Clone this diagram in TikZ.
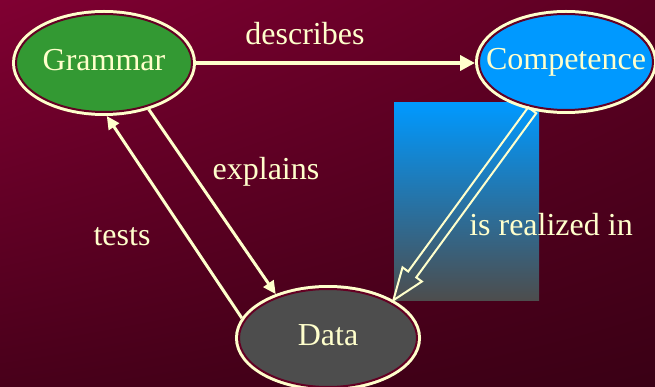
\documentclass[tikz,border=0pt]{standalone}
\usepackage{fontspec}
\setmainfont{Liberation Serif}
\usetikzlibrary{arrows.meta,calc,shapes.geometric,shadings}

\definecolor{cream}{RGB}{255,255,204}
\definecolor{rim}{RGB}{100,0,35}
\definecolor{bgTL}{RGB}{128,0,50}
\definecolor{bgTR}{RGB}{92,0,34}
\definecolor{bgBL}{RGB}{72,0,26}
\definecolor{bgBR}{RGB}{58,0,21}
\definecolor{grammarfill}{RGB}{51,153,51}
\definecolor{competencefill}{RGB}{0,153,255}
\definecolor{datafill}{RGB}{77,77,77}
\definecolor{panelbottom}{RGB}{77,77,77}

\newcommand{\slidefont}{\fontsize{32pt}{36pt}\selectfont}
% centred text that does not push the ellipse outwards
\newcommand{\bubbletext}[1]{\makebox[0pt]{#1}}

\tikzset{
  bubble/.style={ellipse, inner sep=0pt, outer sep=4pt,
    draw=rim, line width=2pt,
    preaction={draw=cream, line width=8pt},
    text=cream, font=\slidefont, text height=22pt, text depth=7pt},
  link/.style={draw=cream, line width=3pt,
    -{Triangle[length=13pt,width=12pt]}},
  biglink/.style={draw=cream, line width=4.5pt,
    -{Triangle[length=15pt,width=15pt]}},
  hollow/.style={draw=cream, line width=2pt, line join=miter},
  lbl/.style={text=cream, font=\slidefont, inner sep=0pt, anchor=base}
}

\begin{document}
\begin{tikzpicture}[x=1pt,y=-1pt]
  \useasboundingbox (0,0) rectangle (655,387);

  % background
  \shade[upper left=bgTL, upper right=bgTR, lower left=bgBL, lower right=bgBR]
    (0,0) rectangle (655,387);

  % shaded panel behind the realization arrow
  \shade[top color=competencefill, bottom color=panelbottom]
    (394,103) rectangle (539,300);

  % the three concepts
  \node[bubble, fill=grammarfill, minimum width=176pt, minimum height=98pt]
    (gram) at (104,63) {\bubbletext{Grammar}};
  \node[bubble, fill=competencefill, minimum width=174pt, minimum height=96pt]
    (comp) at (566,62) {\bubbletext{Competence}};
  \node[bubble, fill=datafill, minimum width=178pt, minimum height=98pt]
    (data) at (328,338) {\bubbletext{Data}};

  % relations
  \draw[biglink] (gram.east) -- (gram.east -| comp.west);
  \draw[link] (gram.-46) -- (data.140);
  \draw[link] (data.167) -- (gram.-87);

  % hollow block arrow: Competence is realized in Data
  \coordinate (rs) at (comp.235);
  \coordinate (rt) at (data.30);
  \coordinate (rh) at ($(rt)!32pt!(rs)$);
  \draw[hollow]
    ($(rs)!5pt!90:(rt)$) -- ($(rh)!5pt!-90:(rs)$) -- ($(rh)!12pt!-90:(rs)$)
    -- (rt)
    -- ($(rh)!12pt!90:(rs)$) -- ($(rh)!5pt!90:(rs)$) -- ($(rs)!5pt!-90:(rt)$)
    -- cycle;

  % relation labels
  \node[lbl] (ldescribes) at (305,45) {describes};
  \node[lbl] (lexplains) at (266,180) {explains};
  \node[lbl] (ltests) at (122,245) {tests};
  \node[lbl] (lrealized) at (551,236) {is realized in};
\end{tikzpicture}
\end{document}
